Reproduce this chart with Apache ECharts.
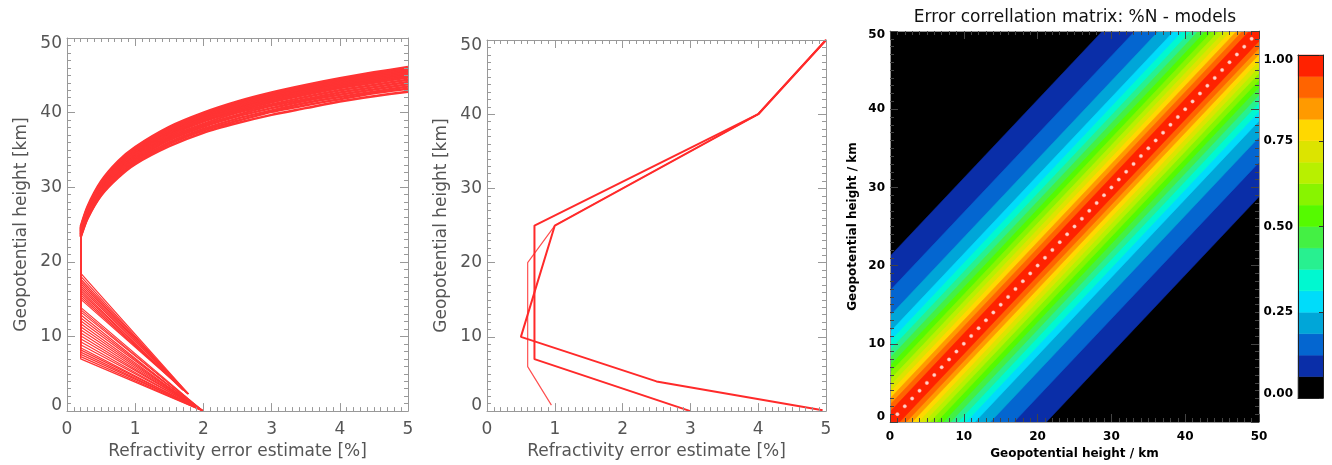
<!DOCTYPE html>
<html><head><meta charset="utf-8">
<script src="https://cdn.jsdelivr.net/npm/echarts@6/dist/echarts.min.js"></script>
<style>html,body{margin:0;padding:0;background:#fff}#c{width:1332px;height:465px}</style>
</head><body><div id="c"></div>
<script>
// ---------- DATA ----------
// Left panel: refractivity error profiles (x = error %, y = height km)
const leftFloorX = 0.2;          // floor error value of the vertical segment
const leftVertTop = 24.0;        // top of vertical segment (km)
// lower segments: [bottom x, bottom height, turn height at floor]
const leftLower = [
  [2.00,0.0,7.0],[2.00,0.0,7.3],[1.97,0.2,7.6],[2.00,0.0,7.9],[1.95,0.3,8.2],
  [2.00,0.0,8.5],[1.90,0.6,8.9],[2.00,0.0,9.3],[1.85,0.9,9.7],[1.98,0.1,10.1],
  [1.93,0.4,10.5],[2.00,0.0,10.9],[1.88,0.7,11.3],[1.95,0.2,11.7],[2.00,0.0,12.1],
  [1.96,0.2,12.5],[1.90,0.5,12.9],[2.00,0.0,13.3],[1.94,0.3,13.6],[1.98,0.1,13.9],
  [1.78,2.3,15.0],[1.78,2.3,15.3],[1.75,2.5,15.6],[1.78,2.3,15.9],[1.70,2.8,16.2],
  [1.78,2.3,16.5],[1.76,2.4,16.8],[1.78,2.3,17.1],[1.74,2.6,17.4],[1.78,2.3,17.7],
  [1.77,2.3,18.1],[1.78,2.3,18.5]
];
// upper curves: heights (km) at the error values in leftCurveX
const leftCurveX = [0.2,0.3,0.5,0.75,1,1.5,2,2.5,3,3.5,4,4.5,5];
const leftCurveH = [
  [23.3,25.8,28.9,31.3,33.1,35.5,37.3,38.6,39.7,40.6,41.5,42.2,42.8],
  [23.4,25.9,29.0,31.5,33.3,35.8,37.6,38.9,40.1,41.0,41.8,42.6,43.2],
  [23.5,26.0,29.2,31.7,33.5,36.0,37.8,39.2,40.3,41.3,42.1,42.8,43.5],
  [23.6,26.2,29.4,31.9,33.7,36.3,38.1,39.5,40.6,41.6,42.4,43.1,43.8],
  [23.7,26.3,29.5,32.1,33.9,36.5,38.3,39.7,40.9,41.8,42.7,43.4,44.1],
  [23.8,26.4,29.7,32.3,34.1,36.7,38.5,40.0,41.1,42.1,43.0,43.7,44.4],
  [23.9,26.5,29.8,32.4,34.3,36.9,38.8,40.2,41.4,42.4,43.3,44.0,44.7],
  [24.0,26.6,30.0,32.6,34.5,37.1,39.0,40.4,41.6,42.6,43.5,44.2,44.9],
  [24.1,26.8,30.1,32.7,34.6,37.3,39.1,40.6,41.8,42.8,43.6,44.4,45.1],
  [24.2,26.9,30.2,32.9,34.8,37.4,39.3,40.8,42.0,43.0,43.8,44.6,45.3],
  [24.3,27.0,30.3,33.0,34.9,37.6,39.5,40.9,42.1,43.2,44.0,44.8,45.5],
  [24.4,27.1,30.5,33.2,35.1,37.7,39.6,41.1,42.3,43.3,44.2,45.0,45.7],
  [24.5,27.2,30.6,33.3,35.2,37.9,39.8,41.3,42.5,43.5,44.4,45.2,45.9],
  [24.7,27.4,30.8,33.5,35.4,38.1,40.0,41.5,42.7,43.7,44.6,45.4,46.1]
];
// Middle panel: three model error profiles [error %, height km]
const midA = [[3.0,0],[0.7,7],[0.7,25],[4,40],[5,50]];
const midB = [[4.95,0.1],[2.5,4],[0.5,10],[1.0,25],[4,40],[5,50]];
const midC = [[0.95,0.8],[0.6,6],[0.6,20],[1.0,25],[4,40],[5,50]];
// Right panel: correlation levels and distance |z1-z2| (km) where each level is reached
const corrLevels = [0,0.0625,0.125,0.1875,0.25,0.3125,0.375,0.4375,0.5,0.5625,0.625,0.6875,0.75,0.8125,0.875,0.9375,1.0];
const levelDist  = [21.2,16.8,13.6,11.5,10.3,9.2,8.2,7.2,6.3,5.4,4.6,3.8,3.0,2.2,1.3]; // for levels 0.0625..0.9375
const bandColors = ['#000000','#0a2ea8','#0466d0','#00a6d8','#00dcfa','#00f8d0','#28f090','#44f044',
                    '#55fa00','#88f400','#b8f000','#dce400','#ffd800','#ff9a00','#ff6400','#ff2200'];
const diagKm = [1,2,3,4,5,6,7,8,9,10,11,12,13,14,15,16,17,18,19,20,21,22,23,24,25,26,27,28,29,30,31,32,33,34,35,36,37,38,39,40,41,42,43,44,45,46,47,48,49];

// ---------- HELPERS ----------
const F = 'DejaVu Sans';
const lstyle = {fontFamily:F, fontSize:17, color:'#555'};
const hstyle = {fontFamily:F, fontSize:12, color:'#000', fontWeight:'bold'};
function richEnds(maxV, minV, pt, pb, st, fmt) {
  fmt = fmt || (v => String(v));
  return {
    formatter: v => v === maxV ? '{t|' + fmt(v) + '}' : (v === minV ? '{b|' + fmt(v) + '}' : fmt(v)),
    rich: {t: Object.assign({padding:[pt,0,0,0]}, st), b: Object.assign({padding:[0,0,pb,0]}, st)}
  };
}
function frameAxis(o) {
  return Object.assign({
    type:'value', z:10, splitLine:{show:false},
    axisLine:{show:true, onZero:false, lineStyle:{color:o.lc || '#999', width:1}},
    axisTick:{show:true, inside:true, length:8, lineStyle:{color:o.tc || '#999'}},
    minorTick:{show:true, splitNumber:10, length:4, lineStyle:{color:o.tc || '#999'}},
    axisLabel:{show:false}
  }, o.extra);
}

const xAxes = [], yAxes = [];
// grid 0 & 1 : left and middle panels
[0,1].forEach(g => {
  xAxes.push(frameAxis({extra:{gridIndex:g, position:'bottom', min:0, max:5, interval:1,
    axisLabel:Object.assign({show:true, margin:10}, lstyle),
    name:'Refractivity error estimate [%]', nameLocation:'middle', nameGap:31, nameTextStyle:lstyle}}));
  xAxes.push(frameAxis({extra:{gridIndex:g, position:'top', min:0, max:5, interval:1}}));
  yAxes.push(frameAxis({extra:{gridIndex:g, position:'left', min:0, max:50, interval:10,
    axisLabel:Object.assign({show:true, margin:5}, lstyle, richEnds(50, 0, 12, 11, lstyle)),
    name:'Geopotential height [km]', nameLocation:'middle', nameGap:37, nameRotate:90, nameTextStyle:lstyle}}));
  yAxes.push(frameAxis({extra:{gridIndex:g, position:'right', min:0, max:50, interval:10}}));
});
// grid 2 : correlation matrix
xAxes.push(frameAxis({lc:'#999', tc:'#444', extra:{gridIndex:2, position:'bottom', min:0, max:50, interval:10,
  axisLabel:Object.assign({show:true, margin:9}, hstyle),
  name:'Geopotential height / km', nameLocation:'middle', nameGap:26, nameTextStyle:hstyle}}));
xAxes.push(frameAxis({lc:'#999', tc:'#444', extra:{gridIndex:2, position:'top', min:0, max:50, interval:10}}));
yAxes.push(frameAxis({lc:'#999', tc:'#444', extra:{gridIndex:2, position:'left', min:0, max:50, interval:10,
  axisLabel:Object.assign({show:true, margin:5}, hstyle, richEnds(50, 0, 7, 10, hstyle)),
  name:'Geopotential height / km', nameLocation:'middle', nameGap:31, nameRotate:90, nameTextStyle:hstyle}}));
yAxes.push(frameAxis({lc:'#999', tc:'#444', extra:{gridIndex:2, position:'right', min:0, max:50, interval:10}}));
// grid 3 : colorbar
xAxes.push({gridIndex:3, type:'value', min:0, max:1, position:'bottom', z:10, axisLine:{show:true, onZero:false, lineStyle:{color:'#222'}}, axisTick:{show:false}, axisLabel:{show:false}, splitLine:{show:false}});
xAxes.push({gridIndex:3, type:'value', min:0, max:1, position:'top', z:10, axisLine:{show:true, onZero:false, lineStyle:{color:'#222'}}, axisTick:{show:false}, axisLabel:{show:false}, splitLine:{show:false}});
yAxes.push({gridIndex:3, type:'value', min:0, max:1, interval:0.25, position:'left', z:10,
  axisLine:{show:true, onZero:false, lineStyle:{color:'#222'}}, axisTick:{show:false}, splitLine:{show:false},
  axisLabel:Object.assign({show:true, margin:5}, hstyle, richEnds(1, 0, 10, 8, hstyle, v => v.toFixed(2)))});
yAxes.push({gridIndex:3, type:'value', min:0, max:1, interval:0.25, position:'right', z:10,
  axisLine:{show:true, onZero:false, lineStyle:{color:'#222'}}, axisTick:{show:true, inside:true, length:4, lineStyle:{color:'#333'}},
  splitLine:{show:false}, axisLabel:{show:false}});

// ---------- SERIES ----------
const series = [];
const RED = '#ff3333';
leftLower.forEach(p => series.push({type:'line', xAxisIndex:0, yAxisIndex:0, symbol:'none', silent:true,
  data:[[p[0],p[1]],[leftFloorX,p[2]],[leftFloorX,leftVertTop]], lineStyle:{color:RED, width:1.2}}));
leftCurveH.forEach(row => series.push({type:'line', xAxisIndex:0, yAxisIndex:0, symbol:'none', silent:true,
  smooth:0.25,
  data:row.map((h,i) => [leftCurveX[i], h]), lineStyle:{color:RED, width:2.5}}));
series.push({type:'line', xAxisIndex:2, yAxisIndex:2, symbol:'none', silent:true, data:midC, lineStyle:{color:'#ff5050', width:1.2}});
series.push({type:'line', xAxisIndex:2, yAxisIndex:2, symbol:'none', silent:true, data:midA, lineStyle:{color:'#ff2a2a', width:2}});
series.push({type:'line', xAxisIndex:2, yAxisIndex:2, symbol:'none', silent:true, data:midB, lineStyle:{color:'#ff2a2a', width:2}});
// correlation bands, drawn outer -> inner
series.push({type:'custom', xAxisIndex:4, yAxisIndex:4, clip:true, silent:true,
  data: levelDist.map((d,i) => [d, i+1]),
  renderItem: (params, api) => {
    const d = api.value(0), ci = api.value(1);
    const pts = [[-60,-60-d],[110,110-d],[110,110+d],[-60,-60+d]].map(p => api.coord(p));
    return {type:'polygon', z2:ci, shape:{points:pts}, style:{fill:bandColors[ci], stroke:bandColors[ci], lineWidth:0.5}};
  }});
series.push({type:'scatter', xAxisIndex:4, yAxisIndex:4, silent:true, symbolSize:3.5, z:5,
  itemStyle:{color:'#ffffff', borderColor:'#ffb0a0', borderWidth:0.5},
  data: diagKm.map(k => [k, k])});
// colorbar
series.push({type:'custom', xAxisIndex:6, yAxisIndex:6, silent:true,
  data: bandColors.map((c,k) => [corrLevels[k], corrLevels[k+1], k]),
  renderItem: (params, api) => {
    const p1 = api.coord([0, api.value(1)]), p2 = api.coord([1, api.value(0)]);
    return {type:'rect', shape:{x:p1[0], y:p1[1], width:p2[0]-p1[0], height:p2[1]-p1[1]},
      style:{fill:bandColors[api.value(2)], stroke:bandColors[api.value(2)], lineWidth:0.5}};
  }});

const chart = echarts.init(document.getElementById('c'), null, {renderer:'canvas'});
chart.setOption({
  backgroundColor:'#ffffff',
  animation:false,
  title:{text:'Error correllation matrix: %N - models', left:1075, top:9, textAlign:'center', padding:0,
    textStyle:{fontFamily:F, fontSize:17, fontWeight:'normal', color:'#111'}},
  grid:[
    {left:67, top:38, width:341, height:377},
    {left:487, top:40, width:339, height:375},
    {left:890, top:31, width:369, height:392, show:true, backgroundColor:'#000', borderWidth:0},
    {left:1298, top:55, width:25, height:343}
  ],
  xAxis:xAxes, yAxis:yAxes, series:series
});
</script></body></html>
